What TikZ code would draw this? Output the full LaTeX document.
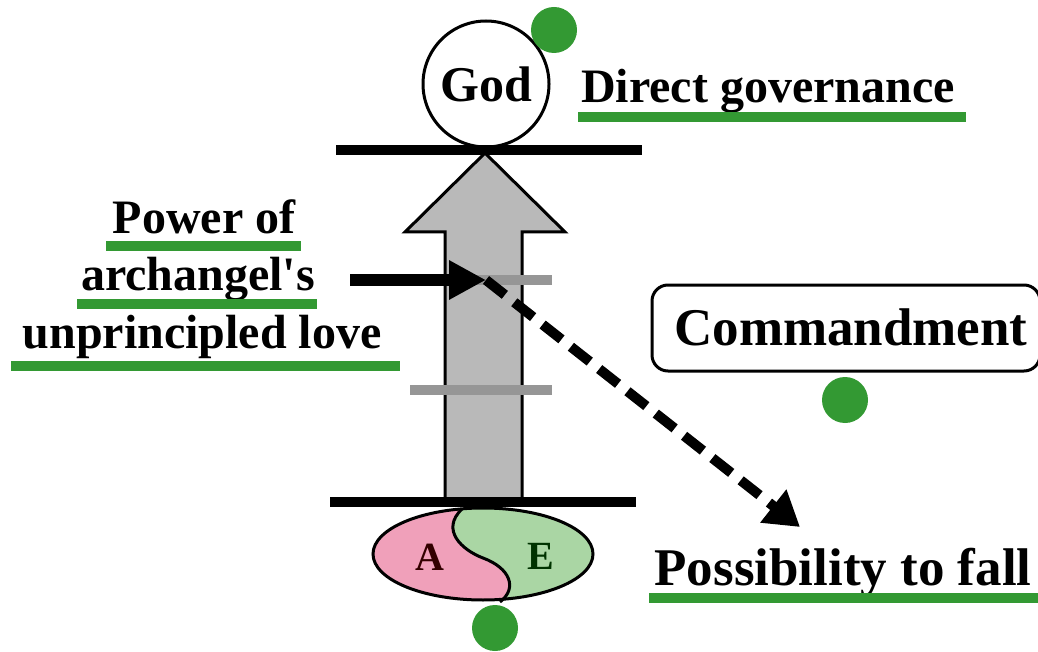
\documentclass[tikz,border=0pt]{standalone}
\usepackage{fontspec}
\setmainfont{Liberation Serif}[Ligatures=TeXOff]
\usetikzlibrary{arrows.meta,shapes.geometric}
\definecolor{mygreen}{RGB}{51,153,51}
\definecolor{mypink}{RGB}{240,160,186}
\definecolor{mylgreen}{RGB}{170,214,164}
\definecolor{arrowgray}{RGB}{185,185,185}
\definecolor{bargray}{RGB}{150,150,150}
\tikzset{
  lbl/.style={font=\fontsize{#1}{#1}\selectfont\bfseries, inner sep=0pt, anchor=base},
  uline/.style={line width=10pt, mygreen},
  dot/.style={circle, fill=mygreen, minimum size=46pt, inner sep=0pt},
  bar/.style={line width=10pt, black},
  graybar/.style={line width=10pt, bargray},
}
\begin{document}
\begin{tikzpicture}[x=1pt,y=-1pt]
\useasboundingbox (0,0) rectangle (1038,652);
% big gray arrow
\draw[line width=3pt, fill=arrowgray, line join=miter]
  (485,153) -- (565,232) -- (522,232) -- (522,500) -- (445,500) -- (445,232) -- (405,232) -- cycle;
% gray bars
\draw[graybar] (410,280) -- (552,280);
\draw[graybar] (410,390) -- (552,390);
% god
\node[circle, draw, line width=3pt, fill=white, minimum size=126pt, inner sep=0pt] (god) at (486,84) {};
\node[lbl=50] (godt) at (486,102) {God};
% bars
\draw[bar] (336,150) -- (642,150);
\draw[bar] (330,502) -- (636,502);
% black arrow
\coordinate (bs) at (350,280);
\coordinate (bt) at (486,280);
\draw[line width=12pt, -{Triangle[length=37pt,width=37pt]}] (bs) -- (bt);
% dashed arrow
\coordinate (de) at (800,527);
\draw[line width=10pt, dash pattern=on 24pt off 12pt, -{Triangle[length=34pt,width=40pt]}] (bt) -- (de);
% AE ellipse
\begin{scope}
  \clip (483,554) ellipse [x radius=110, y radius=46];
  \fill[mylgreen] (360,500) rectangle (600,610);
  \fill[mypink] (360,495) -- (462,495) -- (462,509) .. controls (440,530) and (462,550) .. (483,558) .. controls (510,568) and (518,588) .. (500,605) -- (500,615) -- (360,615) -- cycle;
\end{scope}
\draw[line width=3pt] (462,509) .. controls (440,530) and (462,550) .. (483,558) .. controls (510,568) and (518,588) .. (500,602);
\node[ellipse, draw, line width=3pt, minimum width=220pt, minimum height=92pt, inner sep=0pt] (ae) at (483,554) {};
\node[lbl=40, text=black!80!red] (a) at (430,570) {A};
\node[lbl=40, text=black!80!green] (e) at (541,569) {E};
% green dots
\node[dot] (d1) at (554,30) {};
\node[dot] (d2) at (845,400) {};
\node[dot] (d3) at (495,628) {};
% direct governance
\node[lbl=48] (dg) at (768,103) {Direct governance};
\draw[uline] (578,117) -- (966,117);
% left text
\node[lbl=48] (p1) at (204,234) {Power of};
\draw[uline] (106,246) -- (301,246);
\node[lbl=48] (p2) at (198,290) {archangel's};
\draw[uline] (77,304) -- (317,304);
\node[lbl=48] (p3) at (202,348) {unprincipled love};
\draw[uline] (11,366) -- (400,366);
% commandment
\draw[line width=3pt, rounded corners=16pt] (652,285) rectangle (1040,371);
\node[lbl=53] (cm) at (851,345) {Commandment};
% possibility
\node[lbl=53] (pf) at (843,585) {Possibility to fall};
\draw[uline] (649,598) -- (1038,598);
\end{tikzpicture}
\end{document}
